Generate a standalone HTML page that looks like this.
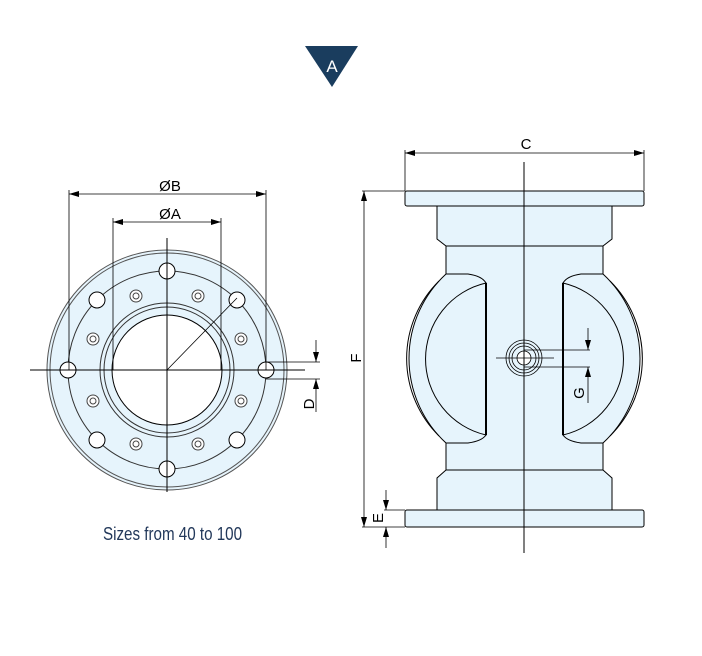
<!DOCTYPE html>
<html><head><meta charset="utf-8"><style>
html,body{margin:0;padding:0;background:#fff;width:702px;height:656px;overflow:hidden}
svg{display:block}
text{font-family:"Liberation Sans",sans-serif}
</style></head><body>
<svg width="702" height="656" viewBox="0 0 702 656" xmlns="http://www.w3.org/2000/svg">
<defs>
<marker id="ar" viewBox="0 0 10 6" refX="10" refY="3" markerWidth="10" markerHeight="6" orient="auto-start-reverse" markerUnits="userSpaceOnUse"><path d="M0,0 L10,3 L0,6 z" fill="#000"/></marker>
</defs>
<!-- triangle -->
<polygon points="305,46 358,46 332,87" fill="#1a3d5e"/>
<text x="332" y="72" font-size="17" fill="#fff" text-anchor="middle">A</text>

<!-- LEFT VIEW -->
<g stroke="#000" stroke-width="1" fill="none">
<circle cx="167" cy="370" r="120" fill="#e6f4fc" stroke="#555"/>
<circle cx="167" cy="370" r="117" stroke="#555"/>
<circle cx="167" cy="370" r="99" stroke="#333"/>
<circle cx="167" cy="370" r="67" stroke="#333"/>
<circle cx="167" cy="370" r="63" stroke="#333"/>
<circle cx="167" cy="370" r="55" fill="#fff"/>
<g fill="#fff">
<circle cx="167" cy="271" r="8"/><circle cx="167" cy="469" r="8"/>
<circle cx="68" cy="370" r="8"/><circle cx="266" cy="370" r="8"/>
<circle cx="237" cy="300" r="8"/><circle cx="97" cy="300" r="8"/>
<circle cx="237" cy="440" r="8"/><circle cx="97" cy="440" r="8"/>
</g>
<g fill="#fff" stroke="#444">
<circle cx="198" cy="296" r="6"/><circle cx="136" cy="296" r="6"/>
<circle cx="198" cy="444" r="6"/><circle cx="136" cy="444" r="6"/>
<circle cx="241" cy="339" r="6"/><circle cx="93" cy="339" r="6"/>
<circle cx="241" cy="401" r="6"/><circle cx="93" cy="401" r="6"/>
<circle cx="198" cy="296" r="3"/><circle cx="136" cy="296" r="3"/>
<circle cx="198" cy="444" r="3"/><circle cx="136" cy="444" r="3"/>
<circle cx="241" cy="339" r="3"/><circle cx="93" cy="339" r="3"/>
<circle cx="241" cy="401" r="3"/><circle cx="93" cy="401" r="3"/>
</g>
<line x1="30" y1="370" x2="305" y2="370"/>
<line x1="167" y1="238" x2="167" y2="492"/>
<line x1="167" y1="370" x2="237" y2="298" stroke-width="0.8"/>
<!-- ØB -->
<line x1="69" y1="190" x2="69" y2="370" stroke-width="0.8"/>
<line x1="266" y1="190" x2="266" y2="370" stroke-width="0.8"/>
<line x1="69" y1="194" x2="266" y2="194" marker-start="url(#ar)" marker-end="url(#ar)" stroke-width="0.8"/>
<!-- ØA -->
<line x1="113" y1="218" x2="113" y2="370" stroke-width="0.8"/>
<line x1="221" y1="218" x2="221" y2="370" stroke-width="0.8"/>
<line x1="113" y1="222" x2="221" y2="222" marker-start="url(#ar)" marker-end="url(#ar)" stroke-width="0.8"/>
<!-- D -->
<line x1="266" y1="362" x2="320" y2="362" stroke-width="0.8"/>
<line x1="266" y1="379" x2="320" y2="379" stroke-width="0.8"/>
<line x1="316" y1="340" x2="316" y2="362" marker-end="url(#ar)" stroke-width="0.8"/>
<line x1="316" y1="412" x2="316" y2="379" marker-end="url(#ar)" stroke-width="0.8"/>
</g>
<text x="170" y="191" font-size="15" text-anchor="middle">ØB</text>
<text x="170" y="219" font-size="15" text-anchor="middle">ØA</text>
<text transform="translate(314,404) rotate(-90)" font-size="15" text-anchor="middle">D</text>
<text x="103" y="540" font-size="18" fill="#22385a" textLength="139" lengthAdjust="spacingAndGlyphs">Sizes from 40 to 100</text>

<!-- RIGHT VIEW -->
<g stroke="#000" stroke-width="1" fill="#e6f4fc">
<rect x="405" y="191" width="239" height="15" rx="2"/>
<path d="M437,206 H612 V239 L603,246 H446 L437,239 Z"/>
<path d="M446,246 H603 V274 A115,115 0 0 1 603,443 V470 H446 V443 A115,115 0 0 1 446,274 Z"/>
<path d="M446,470 H603 L612,478 V510 H437 V478 Z"/>
<rect x="405" y="510" width="239" height="17" rx="2"/>
<g id="win" fill="none">
<path d="M446,274 L468,274 Q482,276 486,283"/>
<path d="M446,443 L468,443 Q482,441 486,435"/>
<path d="M439,281 A109,109 0 0 0 439,436"/>
<path d="M486,283 A78,78 0 0 0 486,435 Z" fill="#e6f4fc"/>
<line x1="486" y1="283" x2="486" y2="435" stroke-width="2"/>
</g>
<use href="#win" transform="translate(1049,0) scale(-1,1)"/>
</g>
<g stroke="#000" fill="none" stroke-width="0.8">
<circle cx="524" cy="358" r="18" fill="#e6f4fc"/>
<circle cx="524" cy="358" r="15"/>
<circle cx="524" cy="358" r="12"/>
<circle cx="524" cy="358" r="7" fill="#fff"/>
<line x1="496" y1="358" x2="554" y2="358"/>
<line x1="524" y1="162" x2="524" y2="553" stroke-width="1"/>
<!-- C -->
<line x1="405" y1="150" x2="405" y2="191"/>
<line x1="644" y1="150" x2="644" y2="191"/>
<line x1="405" y1="153" x2="644" y2="153" marker-start="url(#ar)" marker-end="url(#ar)"/>
<!-- F -->
<line x1="362" y1="191" x2="405" y2="191"/>
<line x1="362" y1="527" x2="405" y2="527"/>
<line x1="364" y1="191" x2="364" y2="527" marker-start="url(#ar)" marker-end="url(#ar)"/>
<!-- E -->
<line x1="384" y1="510" x2="405" y2="510"/>
<line x1="386" y1="490" x2="386" y2="510" marker-end="url(#ar)"/>
<line x1="386" y1="548" x2="386" y2="527" marker-end="url(#ar)"/>
<!-- G -->
<line x1="524" y1="350" x2="590" y2="350"/>
<line x1="524" y1="367" x2="590" y2="367"/>
<line x1="588" y1="328" x2="588" y2="350" marker-end="url(#ar)"/>
<line x1="588" y1="403" x2="588" y2="367" marker-end="url(#ar)"/>
</g>
<text x="526" y="149" font-size="15" text-anchor="middle">C</text>
<text transform="translate(361,358) rotate(-90)" font-size="15" text-anchor="middle">F</text>
<text transform="translate(383,518) rotate(-90)" font-size="15" text-anchor="middle">E</text>
<text transform="translate(584,393) rotate(-90)" font-size="15" text-anchor="middle">G</text>
</svg>
</body></html>
